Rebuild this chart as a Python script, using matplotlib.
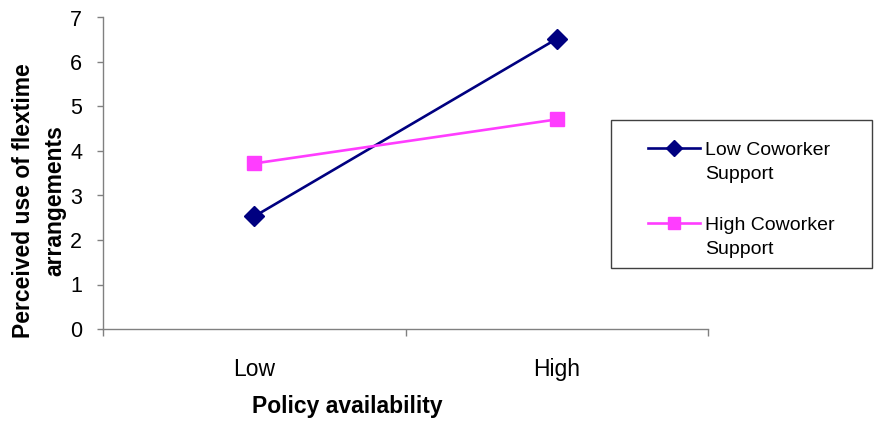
import matplotlib.pyplot as plt
from matplotlib.patches import Rectangle

plt.rcParams['font.family'] = ['Liberation Sans', 'DejaVu Sans']

# Data
categories = ['Low', 'High']
low_support = [2.53, 6.52]
high_support = [3.72, 4.71]
series_names = ['Low Coworker', 'High Coworker']
series_second_line = ['Support', 'Support']

fig = plt.figure(figsize=(8.74, 4.23), dpi=100)
ax = fig.add_axes([103 / 874, 1 - 329 / 423, 605 / 874, 311.5 / 423])

# Category centres at 0.5, 1.5 with boundary ticks at 0, 1, 2
pos = [i + 0.5 for i in range(len(categories))]
ax.plot(pos, low_support, color='#000080', lw=1.9, marker='D', ms=10,
        label=series_names[0])
ax.plot(pos, high_support, color='#ff3dff', lw=1.9, marker='s', ms=10,
        label=series_names[1])

ax.set_xlim(0, len(categories))
ax.set_ylim(0, 7)
ax.set_xticks(range(len(categories) + 1))
ax.set_xticklabels([])
ax.set_xticks(pos, minor=True)
ax.set_xticklabels(categories, minor=True)
ax.tick_params(axis='x', which='minor', length=0, pad=21, labelsize=16.5)
ax.tick_params(axis='x', which='major', length=5, width=1, color='#808080')
ax.set_yticks(range(8))
ax.tick_params(axis='y', length=4.5, width=1, color='#808080', pad=10.5,
               labelsize=15.5)

for s in ['top', 'right']:
    ax.spines[s].set_visible(False)
for s in ['left', 'bottom']:
    ax.spines[s].set_color('#808080')
    ax.spines[s].set_linewidth(1)

# Axis titles
fig.text(39 / 874, 1 - 201 / 423, 'Perceived use of flextime\narrangements',
         rotation=90, ha='center', va='center', multialignment='center',
         fontsize=16.5, fontweight='bold', linespacing=1.45)
fig.text(347 / 874, 1 - 406 / 423, 'Policy availability', ha='center',
         va='center', fontsize=16.5, fontweight='bold')

# Legend with a square frame; handle sits beside the first line of each label
fig.patches.append(Rectangle((611 / 874, 1 - 268 / 423), 261 / 874, 148 / 423,
                             transform=fig.transFigure, fill=False,
                             edgecolor='#404040', lw=1))
leg = fig.legend(loc='upper left', bbox_to_anchor=(648 / 874, 1 - 141 / 423),
                 frameon=False, fontsize=14, handlelength=2.67,
                 handletextpad=0.26, labelspacing=2.95, borderpad=0,
                 borderaxespad=0)
for h in leg.legend_handles:
    h.set_markersize(8.5)

fig.canvas.draw()
inv = fig.transFigure.inverted()
for t, extra in zip(leg.get_texts(), series_second_line):
    bb = t.get_window_extent()
    x0, y0 = inv.transform((bb.x0, bb.y0 - 24))
    fig.text(x0, y0, extra, ha='left', va='bottom', fontsize=14)

fig.savefig('out.png', dpi=100)
